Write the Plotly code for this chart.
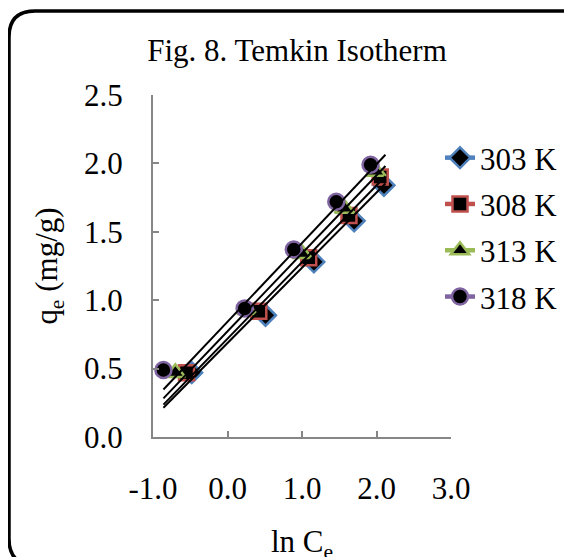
import plotly.graph_objects as go

# ---- data ----
series_names = ["303 K", "308 K", "313 K", "318 K"]
x_303 = [-0.48, 0.51, 1.16, 1.70, 2.10]
y_303 = [0.47, 0.89, 1.28, 1.58, 1.84]
x_308 = [-0.55, 0.42, 1.09, 1.63, 2.05]
y_308 = [0.47, 0.92, 1.31, 1.62, 1.90]
x_313 = [-0.70, 0.26, 1.00, 1.57, 1.99]
y_313 = [0.47, 0.93, 1.34, 1.67, 1.94]
x_318 = [-0.86, 0.23, 0.89, 1.46, 1.92]
y_318 = [0.49, 0.94, 1.37, 1.72, 1.99]

# linear trend lines (end points)
trend_x = [-0.86, 2.12]
trend_303 = [0.214, 1.853]
trend_308 = [0.237, 1.906]
trend_313 = [0.282, 1.981]
trend_318 = [0.347, 2.063]

x_ticks = [-1.0, 0.0, 1.0, 2.0, 3.0]
x_tick_labels = ["-1.0", "0.0", "1.0", "2.0", "3.0"]
y_ticks = [0.0, 0.5, 1.0, 1.5, 2.0, 2.5]
y_tick_labels = ["0.0", "0.5", "1.0", "1.5", "2.0", "2.5"]

xs = [x_303, x_308, x_313, x_318]
ys = [y_303, y_308, y_313, y_318]
trends = [trend_303, trend_308, trend_313, trend_318]
colors = ["#4F81BD", "#C0504D", "#9BBB59", "#8064A2"]
symbols = ["diamond", "square", "triangle-up", "circle"]
sizes = [16, 15, 17, 16]

FONT = "Liberation Serif, Times New Roman, serif"
OFF = 8  # page body margin
W, H = 564, 549
ML, MT = 145, 87
PW, PH = 298, 342
MR, MB = W - ML - PW, H - MT - PH

fig = go.Figure()
for name, x, y, c, s, sz in zip(series_names, xs, ys, colors, symbols, sizes):
    fig.add_trace(go.Scatter(
        x=x, y=y, mode="markers", name=name, legendgroup=name, showlegend=False,
        marker=dict(symbol=s, size=sz, color="black", line=dict(color=c, width=2.5)),
    ))
    fig.add_trace(go.Scatter(
        x=[None], y=[None], mode="lines+markers", name=name, legendgroup=name,
        line=dict(color=c, width=4.5),
        marker=dict(symbol=s, size=sz, color="black", line=dict(color=c, width=2.5)),
    ))
for name, t in zip(series_names, trends):
    fig.add_trace(go.Scatter(
        x=trend_x, y=t, mode="lines", showlegend=False, hoverinfo="skip",
        line=dict(color="black", width=2),
    ))


def px_x(p):  # page pixel -> paper x
    return (p - OFF - ML) / PW


def px_y(p):  # page pixel -> paper y
    return (OFF + MT + PH - p) / PH


# rounded outer frame (page pixels)
L, T, R, B, r = 9.0, 11.0, 590, 565, 26
path = (
    f"M {px_x(L)},{px_y(T + r)} "
    f"Q {px_x(L)},{px_y(T)} {px_x(L + r)},{px_y(T)} "
    f"L {px_x(R - r)},{px_y(T)} "
    f"Q {px_x(R)},{px_y(T)} {px_x(R)},{px_y(T + r)} "
    f"L {px_x(R)},{px_y(B - r)} "
    f"Q {px_x(R)},{px_y(B)} {px_x(R - r)},{px_y(B)} "
    f"L {px_x(L + r)},{px_y(B)} "
    f"Q {px_x(L)},{px_y(B)} {px_x(L)},{px_y(B - r)} Z"
)
fig.add_shape(type="path", path=path, xref="paper", yref="paper",
              line=dict(color="black", width=3.5), layer="above")

# x-axis title placed as in the reference (partly cut by the bottom edge)
fig.add_annotation(text="ln C<sub>e</sub>", x=0.5, xref="paper", y=px_y(544), yref="paper",
                   xanchor="center", yanchor="middle", showarrow=False,
                   font=dict(family=FONT, size=31, color="black"))

axis_common = dict(
    showgrid=False, zeroline=False, showline=True, linecolor="#868686", linewidth=2,
    ticks="inside", ticklen=6, tickwidth=2, tickcolor="#868686",
    tickfont=dict(family=FONT, size=31, color="black"),
    mirror=False, automargin=False,
)

fig.update_layout(
    width=W, height=H,
    margin=dict(l=ML, r=MR, t=MT, b=MB, autoexpand=False),
    paper_bgcolor="white", plot_bgcolor="white",
    font=dict(family=FONT, size=31, color="black"),
    title=dict(text="Fig. 8. Temkin Isotherm", x=(297 - OFF) / W, xref="container",
               xanchor="center", y=1 - (50 - OFF) / H, yref="container", yanchor="middle",
               font=dict(family=FONT, size=31, color="black")),
    xaxis=dict(axis_common, range=[-1, 3], tickvals=x_ticks, ticktext=x_tick_labels,
               ticklabelstandoff=23),
    yaxis=dict(axis_common, range=[0, 2.5], tickvals=y_ticks, ticktext=y_tick_labels,
               ticklabelstandoff=22,
               title=dict(text="q<sub>e</sub> (mg/g)", standoff=17,
                          font=dict(family=FONT, size=31, color="black"))),
    legend=dict(x=(440 - OFF) / W, y=1 - (131 - OFF) / H, xref="container", yref="container",
                xanchor="left", yanchor="top",
                font=dict(family=FONT, size=31, color="black"),
                tracegroupgap=3, bgcolor="rgba(0,0,0,0)", itemwidth=30),
    showlegend=True,
)

fig.write_html("out.html")
